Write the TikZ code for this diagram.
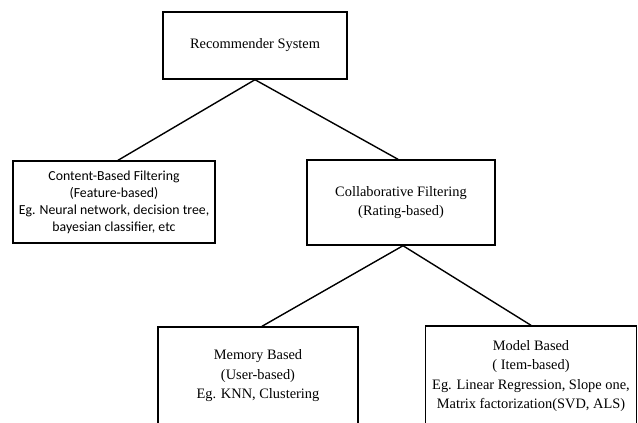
\documentclass[tikz,border=0pt]{standalone}
\usepackage{fontspec}
\setmainfont{Liberation Serif}
\newfontfamily\calib{Carlito}
\begin{document}
\begin{tikzpicture}[x=1pt,y=-1pt,
  box/.style={draw=black,line width=1.4pt,inner sep=0pt,align=center,font=\fontsize{14.4}{19.5}\selectfont},
  cbox/.style={box,font=\calib\fontsize{13.8}{17}\selectfont},
  link/.style={line width=1.4pt}]
\useasboundingbox (0,0) rectangle (638,423);
\clip (0,0) rectangle (638,423);
\node[box,minimum width=184pt,minimum height=67pt] (root) at (255,45.5) {Recommender System};
\node[cbox,minimum width=202pt,minimum height=82pt] (cbf) at (114,202) {Content-Based Filtering\\(Feature-based)\\Eg. Neural network, decision tree,\\bayesian classifier, etc};
\node[box,minimum width=188pt,minimum height=85pt] (cf) at (401,202.5) {Collaborative Filtering\\(Rating-based)};
\node[box,minimum width=200pt,minimum height=98pt] (mem) at (258,376) {Memory Based\\(User-based)\\Eg. KNN, Clustering};
\node[box,minimum width=211pt,minimum height=100pt] (mod) at (531,376) {Model Based\\( Item-based)\\Eg. Linear Regression, Slope one,\\Matrix factorization(SVD, ALS)};
\draw[link] (root.south) -- ([xshift=4pt]cbf.north);
\draw[link] (root.south) -- ([xshift=-3pt]cf.north);
\draw[link] ([xshift=2pt]cf.south) -- ([xshift=4pt]mem.north);
\draw[link] ([xshift=2pt]cf.south) -- (mod.north);
\end{tikzpicture}
\end{document}
